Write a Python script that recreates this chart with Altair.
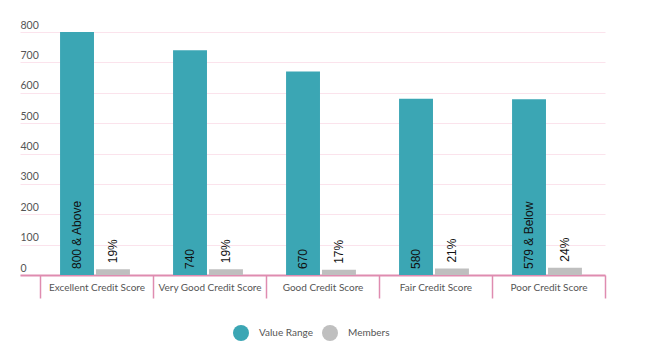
import altair as alt
import pandas as pd

categories = ["Excellent Credit Score", "Very Good Credit Score", "Good Credit Score",
              "Fair Credit Score", "Poor Credit Score"]
value_range = [800, 740, 670, 580, 579]
value_labels = ["800 & Above", "740", "670", "580", "579 & Below"]
members = [19, 19, 17, 21, 24]
member_labels = ["19%", "19%", "17%", "21%", "24%"]
series = ["Value Range", "Members"]
colors = ["#3ba6b4", "#bfbfbf"]
y_ticks = [0, 100, 200, 300, 400, 500, 600, 700, 800]

rows = []
for c, v, vl, m, ml in zip(categories, value_range, value_labels, members, member_labels):
    rows.append({"category": c, "series": "Value Range", "value": v, "label": vl, "label_y": 0})
    rows.append({"category": c, "series": "Members", "value": m, "label": ml, "label_y": m})
df = pd.DataFrame(rows)

LABEL_FONT = "Lato, Roboto, sans-serif"
AXIS_PINK = "#df8cb0"

x_axis = alt.Axis(tickBand="extent", tickSize=23, tickColor=AXIS_PINK, tickWidth=1.5,
                  domainColor=AXIS_PINK, domainWidth=2, labelPadding=-16,
                  labelAngle=0, labelFont=LABEL_FONT, labelFontSize=10,
                  labelColor="#555555", grid=False)
y_axis = alt.Axis(values=y_ticks, grid=True, gridColor="#fbe3ec", gridWidth=1,
                  domain=False, ticks=False, tickSize=0,
                  labelAlign="left", labelBaseline="alphabetic", labelPadding=0,
                  labelOffset=-4, labelFont=LABEL_FONT, labelFontSize=10.5,
                  labelColor="#555555", labelOverlap=False)
x_scale = alt.Scale(paddingInner=0, paddingOuter=0.0885, align=1)
xo_scale = alt.Scale(paddingInner=0.056, paddingOuter=0.6, align=0.465)
y_scale = alt.Scale(domain=[0, 800], nice=False)

base = alt.Chart(df)

bars = base.mark_bar().encode(
    x=alt.X("category:N", sort=categories, title=None, scale=x_scale, axis=x_axis),
    xOffset=alt.XOffset("series:N", sort=series, scale=xo_scale),
    y=alt.Y("value:Q", title=None, scale=y_scale, axis=y_axis),
    color=alt.Color("series:N", sort=series, title=None,
                    scale=alt.Scale(domain=series, range=colors),
                    legend=alt.Legend(orient="none", legendX=213, legendY=293,
                                      direction="horizontal", symbolType="circle",
                                      symbolSize=256, symbolStrokeWidth=0,
                                      labelFont=LABEL_FONT, labelFontSize=10,
                                      labelColor="#555555", labelOffset=10,
                                      columnPadding=9)),
)

texts = base.mark_text(angle=270, align="left", baseline="middle", dx=6,
                       font="Liberation Sans, Arial, sans-serif", fontSize=12,
                       color="#111111").encode(
    x=alt.X("category:N", sort=categories, title=None, scale=x_scale, axis=x_axis),
    xOffset=alt.XOffset("series:N", sort=series, scale=xo_scale),
    y=alt.Y("label_y:Q", title=None, scale=y_scale, axis=y_axis),
    text="label:N",
)

chart = alt.layer(bars, texts).properties(
    width=585, height=243,
    autosize=alt.AutoSizeParams(type="none"),
    padding={"left": 12, "top": 24, "right": 20, "bottom": 80},
).configure_view(strokeWidth=0)

chart.save("out.html", embed_options={"renderer": "svg", "actions": False})
